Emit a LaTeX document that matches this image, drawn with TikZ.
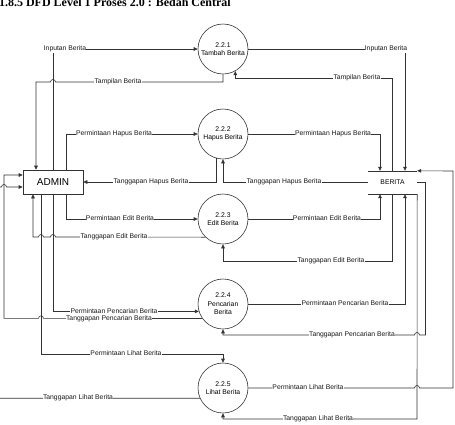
\documentclass[tikz,border=0pt]{standalone}
\usepackage{fontspec}
\setmainfont{Liberation Sans}
\newfontfamily\titlefont{Liberation Serif}
\usetikzlibrary{arrows.meta}
\begin{document}
\begin{tikzpicture}[x=1pt,y=-1pt,
  flow/.style={draw=black!80, line width=0.6pt},
  arr/.style={flow, -{Triangle[length=4pt,width=3.6pt]}},
  lbl/.style={fill=white, inner sep=0.3pt, text height=5pt, text depth=1.5pt, font=\fontsize{6.8}{8}\selectfont, text=black!90},
  proc/.style={circle, draw=black!80, line width=0.6pt, minimum size=50pt, inner sep=0pt, align=center, font=\fontsize{6.8}{8.5}\selectfont},
  ]
\useasboundingbox (0,0) rectangle (455,424);
\node[anchor=base east, inner sep=0pt, font=\fontsize{12}{14}\selectfont] (title) at (231,6) {\titlefont\bfseries 1.8.5 DFD Level 1 Proses 2.0 : Bedah Central};

\node[draw=black!80, line width=0.6pt, minimum width=60pt, minimum height=24pt, inner sep=0pt, font=\fontsize{10}{12}\selectfont] (admin) at (53,182) {ADMIN};
\node[minimum width=49pt, minimum height=23pt, inner sep=0pt, font=\fontsize{6.8}{8}\selectfont] (berita) at (392.5,182.5) {BERITA};
\draw[flow] (berita.north west) -- (berita.north east) (berita.south west) -- (berita.south east);

\node[proc] (c1) at (223,49) {2.2.1\\Tambah Berita};
\node[proc] (c2) at (223,134) {2.2.2\\Hapus Berita};
\node[proc] (c3) at (223,219) {2.2.3\\Edit Berita};
\node[proc] (c4) at (223,304) {2.2.4\\Pencarian\\Berita};
\node[proc] (c5) at (223,388) {2.2.5\\Lihat Berita};

% Tambah
\draw[arr] (admin.north) |- (c1.west);
\draw[arr] (c1.east) -| ([xshift=12.5pt]berita.north);
\draw[arr] (berita.north) -- (392.5,78) -| (c1.-61);
\draw[arr] (c1.south) -- (223,82) -- (55.5,82) .. controls (55.5,78.7) and (50.5,78.7) .. (50.5,82) -- (36,82) -- ([xshift=-17pt]admin.north);
% Hapus
\draw[arr] ([xshift=13pt]admin.north) |- (c2.west);
\draw[arr] (c2.east) -| ([xshift=-12.5pt]berita.north);
\draw[arr] (c2.-105) |- (admin.east);
\draw[arr] (berita.west) -| (c2.south);
% Edit
\draw[arr] ([xshift=13pt]admin.south) |- (c3.west);
\draw[arr] (c3.east) -| ([xshift=-12.5pt]berita.south);
\draw[arr] (c3.226) -- (55.5,237) .. controls (55.5,233.7) and (50.5,233.7) .. (50.5,237) -- (43.5,237) .. controls (43.5,233.7) and (38.5,233.7) .. (38.5,237) -- (33,237) -- ([xshift=-20pt]admin.south);
\draw[arr] (berita.south) -- (392.5,261) -| (c3.south);
% Pencarian
\draw[arr] (admin.south) |- (c4.197);
\draw[arr] (c4.east) -| ([xshift=12.5pt]berita.south);
\draw[arr] (c4.215) -- (43.5,318.3) .. controls (43.5,315) and (38.5,315) .. (38.5,318.3) -- (4,318.3) -- (4,175) -- ([yshift=7pt]admin.west);
\draw[arr] (berita.east) -- (425.5,182.5) -- (425.5,335) -- (419.5,335) .. controls (419.5,331.7) and (414.5,331.7) .. (414.5,335) -- (223,335) -- (c4.south);
% Lihat
\draw[arr] ([xshift=-12pt]admin.south) -- (41,354) -| (c5.north);
\draw[arr] (c5.east) -- (414.5,388) .. controls (414.5,384.7) and (419.5,384.7) .. (419.5,388) -- (453,388) -- (453,171) -- (berita.north east);
\draw[arr] (c5.204) -- (-4,398.2) -- (-4,187) -- (1.5,187) .. controls (1.5,183.7) and (6.5,183.7) .. (6.5,187) -- ([yshift=-5pt]admin.west);
\draw[arr] (berita.south east) -- (417,419) -| (c5.south);

% labels
\node[lbl] (l1) at (65,49) {Inputan Berita};
\node[lbl] (l2) at (386,49) {Inputan Berita};
\node[lbl] (l3) at (357,78) {Tampilan Berita};
\node[lbl] (l4) at (118,82) {Tampilan Berita};
\node[lbl] (l5) at (114,134) {Permintaan Hapus Berita};
\node[lbl] (l6) at (333,134) {Permintaan Hapus Berita};
\node[lbl] (l7) at (151,182) {Tanggapan Hapus Berita};
\node[lbl] (l8) at (284,182) {Tanggapan Hapus Berita};
\node[lbl] (l9) at (120,219) {Permintaan Edit Berita};
\node[lbl] (l10) at (327,219) {Permintaan Edit Berita};
\node[lbl] (l11) at (114,237) {Tanggapan Edit Berita};
\node[lbl] (l12) at (331,261) {Tanggapan Edit Berita};
\node[lbl] (l13) at (114,311.3) {Permintaan Pencarian Berita};
\node[lbl] (l14) at (345,304) {Permintaan Pencarian Berita};
\node[lbl] (l15) at (109,318.3) {Tanggapan Pencarian Berita};
\node[lbl] (l16) at (352,335) {Tanggapan Pencarian Berita};
\node[lbl] (l17) at (126,354) {Permintaan Lihat Berita};
\node[lbl] (l18) at (308,388) {Permintaan Lihat Berita};
\node[lbl] (l19) at (78,398.2) {Tanggapan Lihat Berita};
\node[lbl] (l20) at (318,419) {Tanggapan Lihat Berita};
\end{tikzpicture}
\end{document}
